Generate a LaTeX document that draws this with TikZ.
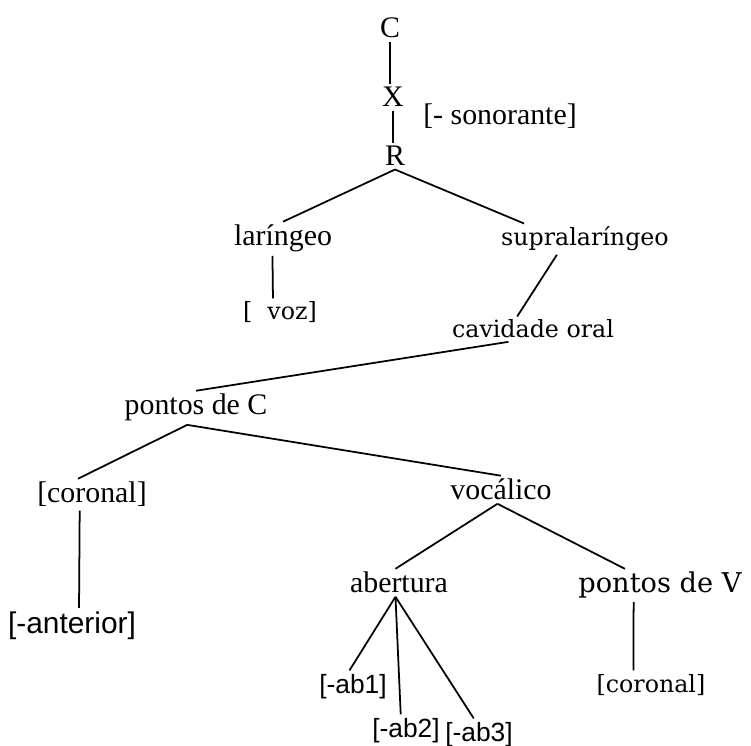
\documentclass[tikz,border=0pt]{standalone}
\usepackage{fontspec}
\setmainfont{Liberation Serif}
\newfontfamily\slabfam{DejaVu Serif}
\newfontfamily\sansfam{Liberation Sans}
\usepackage{tikz}

\begin{document}
\begin{tikzpicture}[x=0.02cm,y=-0.02cm,line width=1pt,
  feat/.style={anchor=base,inner sep=1.5pt,font=\fontsize{17}{20}\selectfont},
  slab/.style={feat,font=\fontsize{13.5}{16}\slabfam},
  sansfeat/.style={feat,font=\fontsize{17}{20}\sansfam},
  abfeat/.style={feat,font=\fontsize{15}{18}\sansfam}]

\useasboundingbox (0,0) rectangle (751,746);

% root and its laryngeal / supralaryngeal split
\node[feat] (C) at (390,38) {C};
\node[feat] (X) at (393,107) {X};
\node[feat] (son) at (500,125) {[- sonorante]};
\node[feat] (R) at (395,166) {R};
\node[feat] (lar) at (283,246) {laríngeo};
\node[slab] (sup) at (585,246) {supralaríngeo};
\node[slab] (voz) at (280,320) {[\ \ voz]};
\node[slab] (cav) at (533,338) {cavidade oral};

% places of articulation
\node[feat] (pC) at (196,415) {pontos de C};
\node[feat] (corL) at (92,503) {[coronal]};
\node[feat] (voc) at (501,500) {vocálico};
\node[sansfeat] (ant) at (72,633) {[-anterior]};
\node[feat] (abe) at (399,593) {abertura};
\node[slab,font=\fontsize{15.5}{18}\slabfam] (pV) at (660,593) {pontos de V};
\node[slab] (corR) at (651,692) {[coronal]};

% aperture features
\node[abfeat] (ab1) at (353,693) {[-ab1]};
\node[abfeat] (ab2) at (406,737) {[-ab2]};
\node[abfeat] (ab3) at (479,741) {[-ab3]};

\draw (C.south) -- (C.south |- X.north);
\draw (X.south) -- (X.south |- R.north);
\draw (R.south) -- (lar.north);
\draw (R.south) -- ([xshift=15pt]sup.north west);
\draw ([xshift=-6pt]lar.south) -- ([xshift=-4pt]voz.north);
\draw ([xshift=-16pt]sup.south) -- ([xshift=-9pt]cav.north);
\draw ([xshift=-14pt]cav.south) -- (pC.north);
\draw ([xshift=-5pt]pC.south) -- ([xshift=-8pt]corL.north);
\draw ([xshift=-5pt]pC.south) -- (voc.north);
\draw ([xshift=-7pt]corL.south) -- ([xshift=4pt]ant.north);
\draw ([xshift=-2pt]voc.south) -- ([xshift=-2pt]abe.north);
\draw ([xshift=-2pt]voc.south) -- ([xshift=-20pt]pV.north);
\draw ([xshift=-15pt]pV.south) -- ([xshift=-10pt]corR.north);
\draw ([xshift=-2pt]abe.south) -- ([xshift=-2pt]ab1.north);
\draw ([xshift=-2pt]abe.south) -- ([xshift=-3pt]ab2.north);
\draw ([xshift=-2pt]abe.south) -- ([xshift=-3pt]ab3.north);
\end{tikzpicture}
\end{document}
